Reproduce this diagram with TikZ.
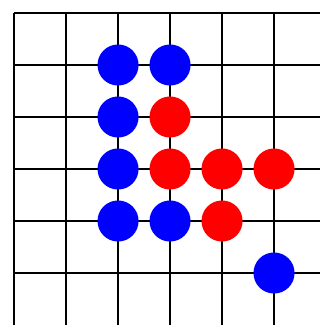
\documentclass[tikz,border=0pt]{standalone}
\begin{document}
\begin{tikzpicture}[x=1cm, y=-1cm, line width=1.4pt,
    bstone/.style={circle, fill=blue, inner sep=0pt, minimum size=0.79cm},
    rstone/.style={circle, fill=red, inner sep=0pt, minimum size=0.79cm}]
  \useasboundingbox (-0.27,-0.25) rectangle (5.885,6.0);
  \foreach \i in {0,...,5} {
    \draw (\i,0) -- (\i,6.0);
    \draw (0,\i) -- (5.885,\i);
  }
  \node[bstone] (b1) at (2,1) {};
  \node[bstone] (b2) at (3,1) {};
  \node[bstone] (b3) at (2,2) {};
  \node[rstone] (r1) at (3,2) {};
  \node[bstone] (b4) at (2,3) {};
  \node[rstone] (r2) at (3,3) {};
  \node[rstone] (r3) at (4,3) {};
  \node[rstone] (r4) at (5,3) {};
  \node[bstone] (b5) at (2,4) {};
  \node[bstone] (b6) at (3,4) {};
  \node[rstone] (r5) at (4,4) {};
  \node[bstone] (b7) at (5,5) {};
\end{tikzpicture}
\end{document}
